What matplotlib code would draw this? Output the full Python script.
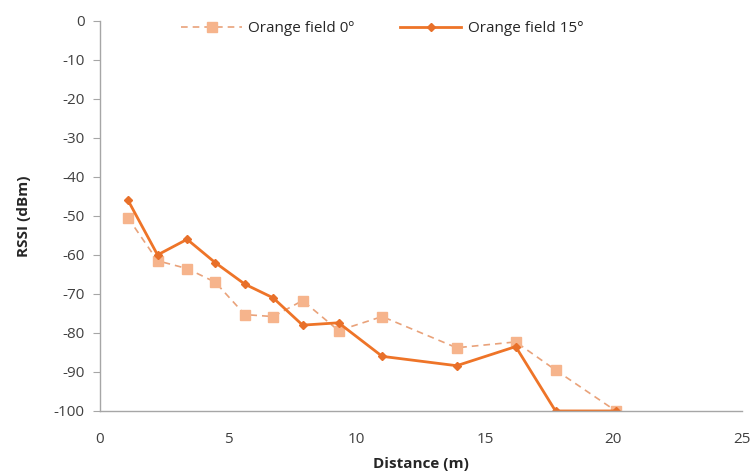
import matplotlib
matplotlib.use("Agg")
import matplotlib.pyplot as plt

distance = [1.1, 2.25, 3.4, 4.5, 5.65, 6.75, 7.9, 9.3, 11.0, 13.9, 16.2, 17.75, 20.1]
rssi_0deg = [-50.5, -61.5, -63.5, -67, -75.3, -75.8, -71.7, -79.4, -75.8, -83.8, -82.3, -89.5, -100]
rssi_15deg = [-46, -60, -56, -62, -67.5, -71, -78, -77.4, -86, -88.4, -83.5, -100, -100]
labels = ["Orange field 0º", "Orange field 15°"]

plt.rcParams['font.family'] = ['Open Sans', 'DejaVu Sans']
plt.rcParams['axes.unicode_minus'] = False

fig = plt.figure(figsize=(7.56, 4.74), dpi=100)
ax = fig.add_axes([0.132, 0.133, 0.849, 0.823])

ax.plot(distance, rssi_0deg, linestyle=(0, (4, 3)), color="#E9A27A", linewidth=1.2,
        marker="s", markersize=6.5, markerfacecolor="#F6B48C", markeredgecolor="#F6B48C",
        label=labels[0])
ax.plot(distance, rssi_15deg, linestyle="-", color="#EE7428", linewidth=2.0,
        marker="D", markersize=4.5, markerfacecolor="#E8702A", markeredgecolor="#E8702A",
        label=labels[1])

ax.set_xlim(0, 25)
ax.set_ylim(-100, 0)
ax.set_xticks([0, 5, 10, 15, 20, 25])
ax.set_yticks(list(range(-100, 1, 10)))

for s in ["top", "right"]:
    ax.spines[s].set_visible(False)
for s in ["left", "bottom"]:
    ax.spines[s].set_color("#A6A6A6")
    ax.spines[s].set_linewidth(1.0)

ax.tick_params(axis="y", direction="out", length=5, color="#A6A6A6", labelsize=11,
               labelcolor="#404040", pad=6)
ax.tick_params(axis="x", direction="out", length=0, color="#A6A6A6", labelsize=11,
               labelcolor="#404040", pad=15)

ax.set_xlabel("Distance (m)", fontsize=11, fontweight="bold", color="#262626", labelpad=7)
ax.set_ylabel("RSSI (dBm)", fontsize=11, fontweight="bold", color="#262626", labelpad=16)

ax.legend(loc="upper center", bbox_to_anchor=(0.44, 1.035), ncol=2, frameon=False,
          fontsize=11, handlelength=4.0, columnspacing=3.0, handletextpad=0.4,
          labelcolor="#262626")

fig.savefig("out.png", dpi=100)
